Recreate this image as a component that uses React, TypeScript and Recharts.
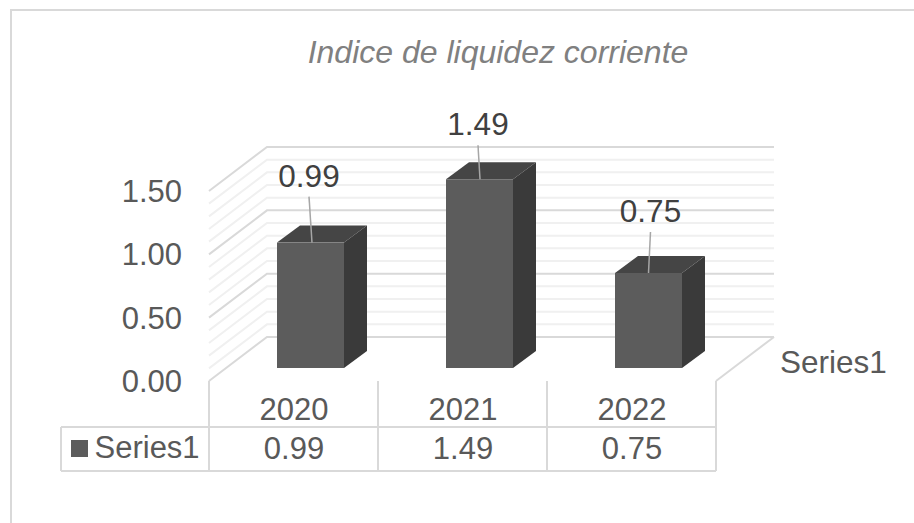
import React from "react";
import { BarChart, Bar, XAxis, YAxis, CartesianGrid, LabelList } from "recharts";

const YEARS = ["2020", "2021", "2022"];
const SERIES1 = [0.99, 1.49, 0.75];
const MAJOR_TICKS = [0, 0.5, 1, 1.5];
const GRID_VALUES = [0, 0.1, 0.2, 0.3, 0.4, 0.5, 0.6, 0.7, 0.8, 0.9, 1, 1.1, 1.2, 1.3, 1.4, 1.5];
const SERIES_NAME = "Series1";
const TITLE = "Indice de liquidez corriente";

const data = YEARS.map((year, i) => ({ year, value: SERIES1[i] }));

const FONT = "'Liberation Sans', Arial, sans-serif";
const TEXT = "#595959";
const MAJOR = "#d9d9d9";
const MINOR = "#f0f0f0";
const FS = 31.5;

const PLOT_TOP = 191;
const PLOT_BOTTOM = 381;
// fake 3d: how far the back wall sits from the front plane
const WALL_DX = 58;
const WALL_DY = -44;
// bars stand a bit behind the front edge of the floor
const BAR_DX = 17;
const BAR_DY = -13;
const SIDE_DX = 23;
const SIDE_DY = -17;
// hand placed leader lines, as in the original chart
const LEADERS = [
  { start: -1.5, end: 1.5, len: 46 },
  { start: -1.5, end: 0.5, len: 34 },
  { start: 2, end: 0, len: 41 },
];

function gridLine(props: any) {
  const { x1, x2, y1 } = props;
  const steps = ((PLOT_BOTTOM - y1) / (PLOT_BOTTOM - PLOT_TOP)) * 15;
  const major = Math.abs(steps / 5 - Math.round(steps / 5)) < 0.05;
  const bx = x1 + WALL_DX;
  const by = y1 + WALL_DY;
  return (
    <g key={`grid-${y1}`}>
      <polyline
        points={`${x1},${y1} ${bx},${by} ${x2 + WALL_DX},${by}`}
        fill="none"
        stroke={major ? MAJOR : MINOR}
        strokeWidth={2}
      />
      {Math.abs(y1 - PLOT_BOTTOM) < 1 && (
        <line x1={x2} y1={y1} x2={x2 + WALL_DX} y2={by} stroke={MAJOR} strokeWidth={2} />
      )}
    </g>
  );
}

function Bar3D(props: any) {
  const { x, y, width, height } = props;
  const l = x + BAR_DX;
  const t = y + BAR_DY;
  const r = l + width;
  const b = t + height;
  return (
    <g>
      <polygon
        points={`${l},${t} ${l + SIDE_DX},${t + SIDE_DY} ${r + SIDE_DX},${t + SIDE_DY} ${r},${t}`}
        fill="#454545"
      />
      <polygon
        points={`${r},${t} ${r + SIDE_DX},${t + SIDE_DY} ${r + SIDE_DX},${b + SIDE_DY} ${r},${b}`}
        fill="#3a3a3a"
      />
      <rect x={l} y={t} width={width} height={height} fill="#5c5c5c" />
    </g>
  );
}

function DataLabel(props: any) {
  const { x, y, width, value, index } = props;
  const lead = LEADERS[index];
  const cx = x + BAR_DX + width / 2;
  const top = y + BAR_DY;
  return (
    <g>
      <line
        x1={cx + lead.start}
        y1={top - lead.len}
        x2={cx + lead.end}
        y2={top}
        stroke="#a6a6a6"
        strokeWidth={1.5}
      />
      <text
        x={cx + lead.start}
        y={top - lead.len - 10}
        textAnchor="middle"
        fontFamily={FONT}
        fontSize={FS}
        fill="#404040"
      >
        {Number(value).toFixed(2)}
      </text>
    </g>
  );
}

// category labels plus the data table under the axis
function TableTick(props: any) {
  const { x, y, index, payload } = props;
  const half = 169 / 2;
  return (
    <g>
      <line x1={x - half} y1={y} x2={x - half} y2={y + 90} stroke={MAJOR} strokeWidth={2} />
      <line x1={x + half} y1={y} x2={x + half} y2={y + 90} stroke={MAJOR} strokeWidth={2} />
      <text x={x + 0.5} y={y + 39} textAnchor="middle" fontFamily={FONT} fontSize={31} fill={TEXT}>
        {payload.value}
      </text>
      <text x={x + 0.5} y={y + 78} textAnchor="middle" fontFamily={FONT} fontSize={31} fill={TEXT}>
        {SERIES1[index].toFixed(2)}
      </text>
    </g>
  );
}

export default function App() {
  return (
    <div style={{ position: "absolute", left: 0, top: 0, width: 914, height: 523, overflow: "hidden", background: "#fff" }}>
      <div
        style={{
          position: "absolute",
          left: 10,
          top: 9,
          width: 910,
          height: 520,
          borderLeft: `2px solid ${MAJOR}`,
          borderTop: `2px solid ${MAJOR}`,
        }}
      />
      <BarChart
        width={914}
        height={523}
        data={data}
        margin={{ top: PLOT_TOP, right: 198, left: 0, bottom: 0 }}
        style={{ position: "absolute", left: 0, top: 0 }}
      >
        <CartesianGrid vertical={false} horizontal={gridLine} syncWithTicks />
        <XAxis
          dataKey="year"
          height={142}
          axisLine={false}
          tickLine={false}
          tickSize={0}
          tickMargin={0}
          interval={0}
          tick={TableTick}
        />
        <YAxis
          width={209}
          domain={[0, 1.5]}
          ticks={GRID_VALUES}
          interval={0}
          axisLine={false}
          tickLine={false}
          tickSize={0}
          tickMargin={27}
          tickFormatter={(v: number) => (MAJOR_TICKS.includes(v) ? v.toFixed(2) : "")}
          tick={{ fill: TEXT, fontSize: 31, fontFamily: FONT }}
        />
        <Bar dataKey="value" barSize={67} shape={Bar3D} isAnimationActive={false}>
          <LabelList dataKey="value" content={DataLabel} />
        </Bar>

        <text x={498} y={63} textAnchor="middle" fontFamily={FONT} fontSize={32} fontStyle="italic" fill="#808080">
          {TITLE}
        </text>
        <text x={780} y={373} fontFamily={FONT} fontSize={FS} fill={TEXT}>
          {SERIES_NAME}
        </text>

        {/* data table frame and its legend key */}
        <line x1={61} y1={427} x2={716} y2={427} stroke={MAJOR} strokeWidth={2} />
        <line x1={61} y1={471} x2={716} y2={471} stroke={MAJOR} strokeWidth={2} />
        <line x1={61} y1={427} x2={61} y2={471} stroke={MAJOR} strokeWidth={2} />
        <rect x={71} y={440} width={17} height={17} fill="#5c5c5c" />
        <text x={94.5} y={458} fontFamily={FONT} fontSize={31} fill={TEXT}>
          {SERIES_NAME}
        </text>
      </BarChart>
    </div>
  );
}
